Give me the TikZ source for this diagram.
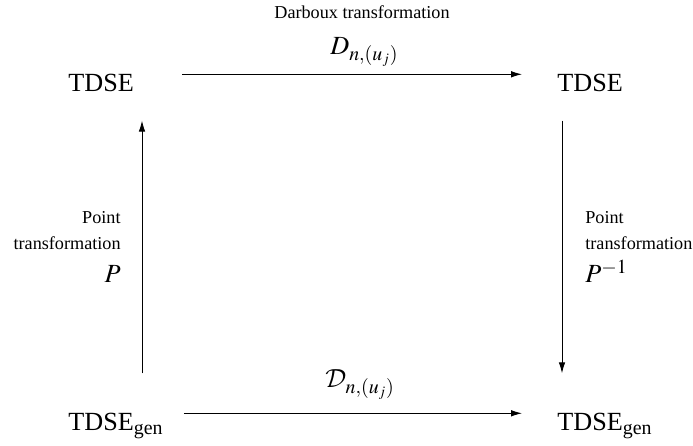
\documentclass[tikz,border=0pt]{standalone}
\usepackage{mathptmx}
\usepackage[no-math]{fontspec}
\setmainfont{Liberation Serif}
\DeclareMathAlphabet{\mathcal}{OMS}{cmsy}{m}{n}
\usepackage{tikz}
\usetikzlibrary{arrows.meta,calc}

\begin{document}
\begin{tikzpicture}[x=0.55pt,y=-0.55pt,
  eqn/.style={inner sep=0pt, font=\Large},
  lbl/.style={inner sep=0pt, font=\fontsize{10}{14.3}\selectfont},
  conn/.style={draw=black,line width=0.5pt,-{Latex[length=6pt,width=3.6pt]}}
]
  \useasboundingbox (0,0) rectangle (693,446);

  \node[eqn,anchor=base west] (tdse) at (68,92) {TDSE};
  \node[eqn,anchor=base west] (tdsenew) at (557,92) {TDSE};
  \node[eqn,anchor=base west] (gen) at (68,431) {TDSE\textsubscript{gen}};
  \node[eqn,anchor=base west] (gennew) at (557,431) {TDSE\textsubscript{gen}};

  \node[lbl,anchor=base] (darboux) at (362,19) {Darboux transformation};
  \node[eqn,anchor=base west] (dop) at (330,55) {$D_{n,(u_j)}$};
  \node[eqn,anchor=base west] (dgen) at (325,388) {$\mathcal{D}_{n,(u_j)}$};

  \node[lbl,anchor=north east,align=right] (pleft) at (121,211)
    {Point\\transformation\\[4pt]{\Large$P$}};
  \node[lbl,anchor=north west,align=left] (pright) at (585,211)
    {Point\\transformation\\[4pt]{\Large$P^{-1}$}};

  \draw[conn] ($(tdse.north east)+(48,0)$) -- ($(tdsenew.north west)+(-35,0)$);
  \draw[conn] ($(gen.north east)+(20,0)$) -- ($(gennew.north west)+(-35,0)$);
  \draw[conn] ($(gen.north west)+(74,-40)$) -- ($(tdse.south west)+(74,28)$);
  \draw[conn] ($(tdsenew.south west)+(5,28)$) -- ($(gennew.north west)+(5,-40)$);

\end{tikzpicture}
\end{document}
